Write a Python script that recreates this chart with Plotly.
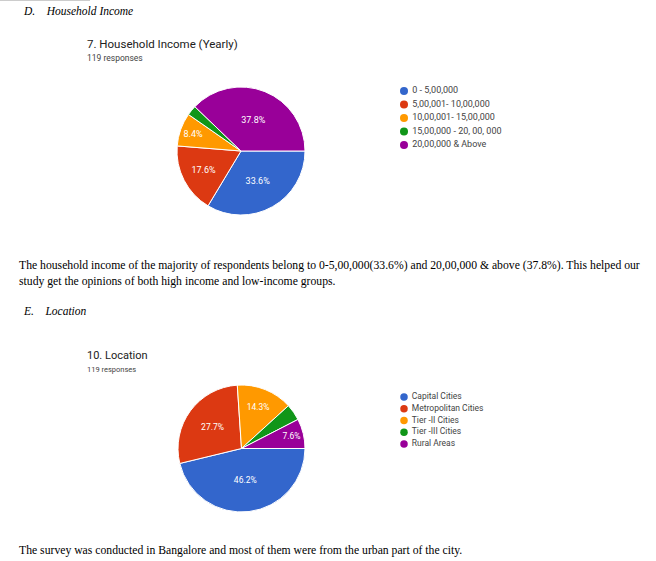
import plotly.graph_objects as go

W, H = 656, 561

income_labels = ["0 - 5,00,000", "5,00,001- 10,00,000", "10,00,001- 15,00,000",
                 "15,00,000 - 20, 00, 000", "20,00,000 & Above"]
income_counts = [40, 21, 10, 3, 45]

location_labels = ["Capital Cities", "Metropolitan Cities", "Tier -II Cities",
                   "Tier -III Cities", "Rural Areas"]
location_counts = [55, 33, 17, 5, 9]

colors = ["#3366cc", "#dc3912", "#ff9900", "#109618", "#990099"]

def px(x):
    return x / W

def py(y):
    return 1 - y / H

def templ(counts):
    tot = sum(counts)
    return ["%{percent:.1%}" if c / tot >= 0.05 else "" for c in counts]

fig = go.Figure()

fig.add_trace(go.Pie(
    labels=income_labels, values=income_counts, sort=False, direction="clockwise",
    rotation=90, marker=dict(colors=colors, line=dict(color="white", width=1)),
    texttemplate=templ(income_counts), textposition="inside",
    insidetextorientation="horizontal",
    textfont=dict(family="Roboto", size=9, color="white"),
    domain=dict(x=[px(177), px(305)], y=[py(215), py(87)]),
    showlegend=False, hoverinfo="label+percent"))

fig.add_trace(go.Pie(
    labels=location_labels, values=location_counts, sort=False, direction="clockwise",
    rotation=90, marker=dict(colors=colors, line=dict(color="white", width=1)),
    texttemplate=templ(location_counts), textposition="inside",
    insidetextorientation="horizontal",
    textfont=dict(family="Roboto", size=8.5, color="white"),
    domain=dict(x=[px(177), px(306)], y=[py(512), py(385)]),
    showlegend=False, hoverinfo="label+percent"))

# legend-like keys drawn as scatter on hidden axes
fig.add_trace(go.Scatter(
    x=[0] * len(income_labels), y=list(range(len(income_labels))),
    mode="markers+text", text=["&nbsp;" + t for t in income_labels],
    textposition="middle right",
    marker=dict(color=colors, size=8), cliponaxis=False,
    textfont=dict(family="Roboto", size=9, color="#444444"),
    xaxis="x", yaxis="y", showlegend=False, hoverinfo="skip"))

fig.add_trace(go.Scatter(
    x=[0] * len(location_labels), y=list(range(len(location_labels))),
    mode="markers+text", text=["&nbsp;" + t for t in location_labels],
    textposition="middle right",
    marker=dict(color=colors, size=7.5), cliponaxis=False,
    textfont=dict(family="Roboto", size=8.5, color="#444444"),
    xaxis="x2", yaxis="y2", showlegend=False, hoverinfo="skip"))

hidden = dict(visible=False, showgrid=False, zeroline=False, fixedrange=True)

fig.update_layout(
    width=W, height=H, margin=dict(l=0, r=0, t=0, b=0),
    paper_bgcolor="white", plot_bgcolor="rgba(0,0,0,0)",
    xaxis=dict(domain=[px(404), px(600)], range=[0, 1], **hidden),
    yaxis=dict(domain=[py(145), py(91)], range=[4, 0], **hidden),
    xaxis2=dict(domain=[px(404), px(600)], range=[0, 1], anchor="y2", **hidden),
    yaxis2=dict(domain=[py(444), py(397)], range=[4, 0], anchor="x2", **hidden),
    shapes=[dict(type="line", xref="paper", yref="paper", x0=0, x1=px(90),
                 y0=py(0.5), y1=py(0.5), line=dict(color="#cccccc", width=1))],
)

serif = "Liberation Serif"
ann = []

def add_text(x, y, text, family, size, color, italic=False):
    ann.append(dict(x=px(x), y=py(y), xref="paper", yref="paper", xanchor="left",
                    yanchor="middle", showarrow=False, text=text,
                    font=dict(family=family, size=size, color=color,
                              style="italic" if italic else "normal")))

add_text(21, 11, "D.&nbsp;&nbsp;&nbsp;&nbsp;Household Income", serif, 11.5, "black", True)
add_text(85, 44, "7. Household Income (Yearly)", "Roboto", 11.5, "#212121")
add_text(85, 58, "119 responses", "Roboto", 8.5, "#444444")
add_text(17, 265, "The household income of the majority of respondents belong to 0-5,00,000(33.6%) and 20,00,000 &amp; above (37.8%). This helped our",
         serif, 11.7, "black")
add_text(17, 281, "study get the opinions of both high income and low-income groups.", serif, 11.7, "black")
add_text(21, 311, "E.&nbsp;&nbsp;&nbsp;&nbsp;Location", serif, 11.5, "black", True)
add_text(85, 356, "10. Location", "Roboto", 11, "#212121")
add_text(85, 369, "119 responses", "Roboto", 7.5, "#444444")
add_text(17, 550, "The survey was conducted in Bangalore and most of them were from the urban part of the city.",
         serif, 11.7, "black")

fig.update_layout(annotations=ann)

fig.write_html("out.html", config={"displayModeBar": False},
               post_script="document.body.style.margin='0';")
